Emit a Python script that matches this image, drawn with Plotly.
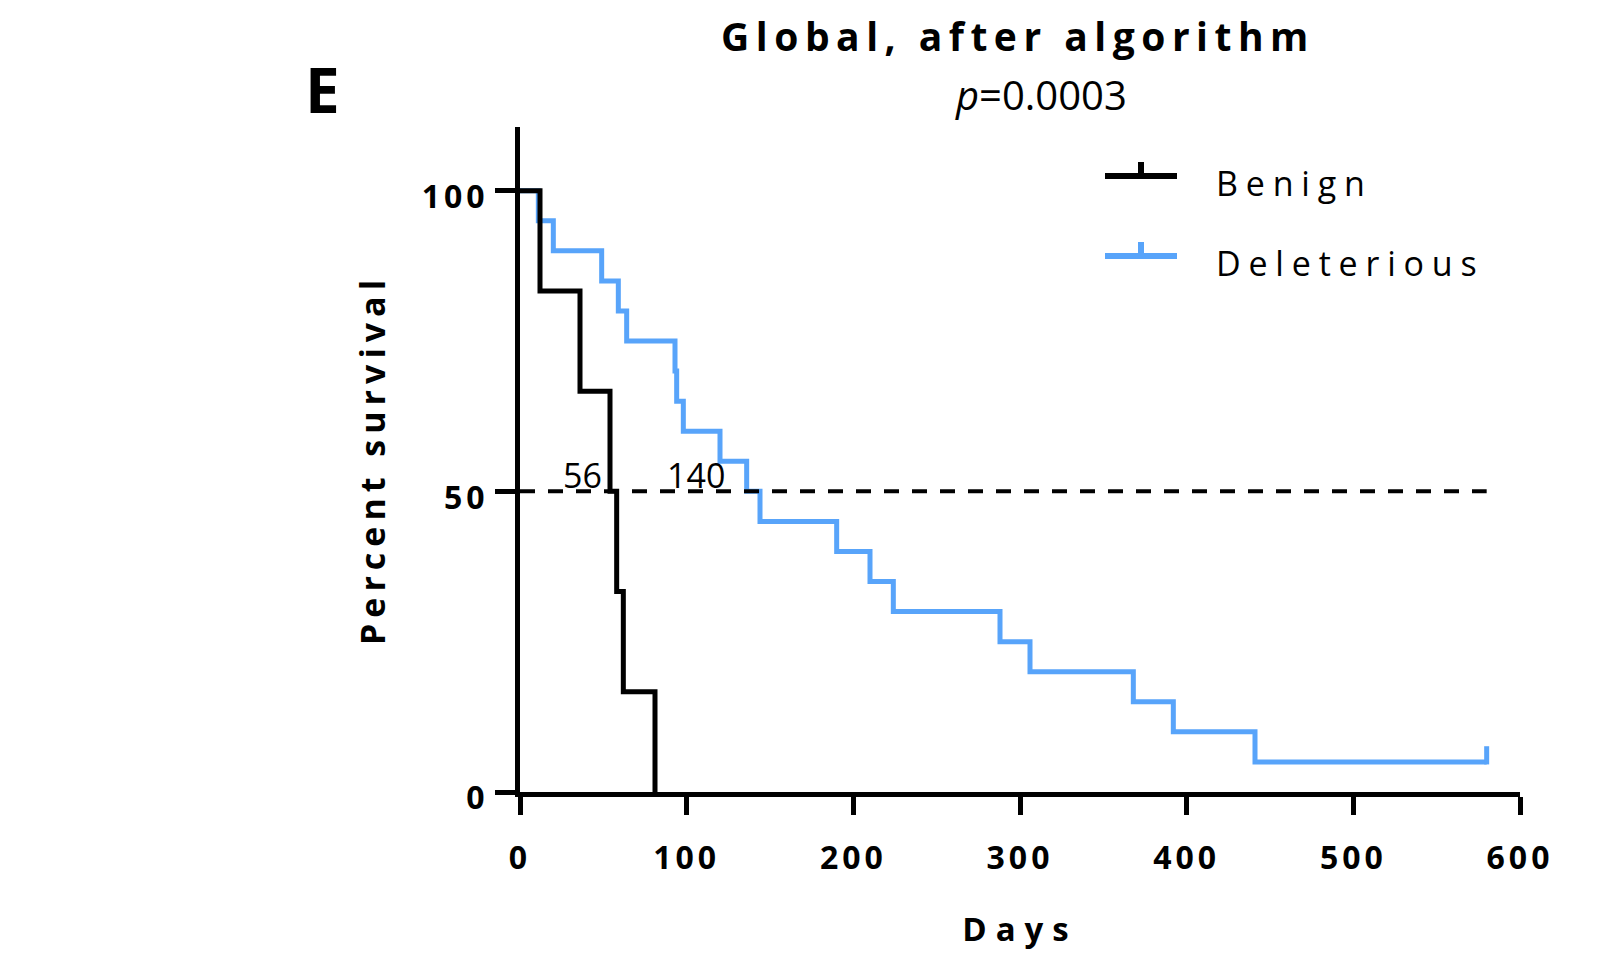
import plotly.graph_objects as go

# ---- data ----
benign_days = [0, 12, 36, 54, 58, 62, 81]
benign_surv = [100, 83.33, 66.67, 50, 33.33, 16.67, 0]

del_days = [0, 11, 20, 49, 59, 64, 93, 94, 98, 120, 136, 144, 190, 210, 224,
            288, 306, 368, 392, 441, 580]
del_surv = [100, 95, 90, 85, 80, 75, 70, 65, 60, 55, 50, 45, 40, 35, 30,
            25, 20, 15, 10, 5, 5]

del_censor_days = [580]
del_censor_surv = [5]

medians = [56, 140]
median_labels = ["56", "140"]

series_names = ["Benign", "Deleterious"]
series_colors = ["#000000", "#58A4FA"]

x_ticks = [0, 100, 200, 300, 400, 500, 600]
y_ticks = [0, 50, 100]

title_text = "Global, after algorithm"
p_text = "<i>p</i>=0.0003"
panel_letter = "E"

FONT = "Open Sans"
W, H = 1623, 958
OFF = 8  # page body margin
# plot area in screen pixels: x 520..1520, y 127..792
L = 520 - OFF
T = 127 - OFF
R = W - (1520 - OFF)
B = H - (792 - OFF)
plot_w = W - L - R
plot_h = H - T - B


def px(xs):
    return (xs - OFF - L) / plot_w


def py(ys):
    return (H - B - (ys - OFF)) / plot_h


LEG_SP = 7.8

fig = go.Figure()

# Deleterious (drawn first, below benign)
fig.add_trace(go.Scatter(x=del_days, y=del_surv, mode="lines",
                         line=dict(color=series_colors[1], width=5, shape="hv"),
                         showlegend=False, hoverinfo="skip"))
# censor tick (upward)
fig.add_trace(go.Scatter(x=del_censor_days, y=[v + 1.1 for v in del_censor_surv],
                         mode="markers",
                         marker=dict(symbol="line-ns", size=13,
                                     line=dict(color=series_colors[1], width=5)),
                         showlegend=False, hoverinfo="skip"))
# Benign
fig.add_trace(go.Scatter(x=benign_days, y=benign_surv, mode="lines",
                         line=dict(color=series_colors[0], width=5, shape="hv"),
                         showlegend=False, hoverinfo="skip"))
# median (50%) dashed line
fig.add_trace(go.Scatter(x=[0, max(del_days)], y=[50, 50], mode="lines",
                         line=dict(color="black", width=4, dash="15px,13px"),
                         showlegend=False, hoverinfo="skip"))

# median labels
for m, lab, sh in zip(medians, median_labels, [-9, -26]):
    fig.add_annotation(x=m, y=50, text=lab, showarrow=False, xanchor="right",
                       yanchor="bottom", xshift=sh, yshift=-9,
                       font=dict(family=FONT, size=34, color="black"))

# custom legend
leg_y_px = [176, 256]
leg_box_w = [190, 310]
for name, col, ypx, bw in zip(series_names, series_colors, leg_y_px, leg_box_w):
    yp = py(ypx)
    x0 = px(1105)
    x1 = px(1177)
    xm = (x0 + x1) / 2
    fig.add_shape(type="line", xref="paper", yref="paper", x0=x0, x1=x1, y0=yp, y1=yp,
                  line=dict(color=col, width=6))
    fig.add_shape(type="line", xref="paper", yref="paper", x0=xm, x1=xm, y0=yp,
                  y1=yp + 14 / plot_h, line=dict(color=col, width=6))
    fig.add_annotation(xref="paper", yref="paper", x=px(1214), y=py(ypx + 7),
                       text=name, showarrow=False, xanchor="left", yanchor="middle",
                       align="left", width=bw,
                       font=dict(family=FONT, size=34, color="black"))

# title, p-value, panel letter
fig.add_annotation(xref="paper", yref="paper", x=px(1018), y=py(OFF),
                   text="<b>" + title_text + "</b>", showarrow=False,
                   xanchor="center", yanchor="top", align="center", width=640,
                   borderpad=0,
                   font=dict(family=FONT, size=39, color="black"))
fig.add_annotation(xref="paper", yref="paper", x=px(1041), y=py(95),
                   text=p_text, showarrow=False, xanchor="center", yanchor="middle",
                   font=dict(family=FONT, size=40, color="black"))
fig.add_annotation(xref="paper", yref="paper", x=px(322), y=py(89),
                   text="<b>" + panel_letter + "</b>", showarrow=False,
                   xanchor="center", yanchor="middle",
                   font=dict(family=FONT, size=62, color="black"))

fig.update_layout(
    width=W, height=H,
    margin=dict(l=L, r=R, t=T, b=B, pad=0),
    paper_bgcolor="white", plot_bgcolor="white",
    showlegend=False,
    xaxis=dict(range=[0, 600], tickvals=x_ticks, ticktext=[str(v) for v in x_ticks],
               showline=True, linecolor="black", linewidth=5,
               ticks="outside", ticklen=18, tickwidth=5, tickcolor="black",
               showgrid=False, zeroline=False,
               tickfont=dict(family=FONT, size=32, color="black", weight="bold"),
               ticklabelstandoff=16,
               title=dict(text="Days", standoff=42,
                          font=dict(family=FONT, size=33, color="black", weight="bold"))),
    yaxis=dict(range=[0, 110.6], tickvals=y_ticks, ticktext=[str(v) for v in y_ticks],
               showline=True, linecolor="black", linewidth=5,
               ticks="outside", ticklen=20, tickwidth=5, tickcolor="black",
               showgrid=False, zeroline=False,
               tickfont=dict(family=FONT, size=32, color="black", weight="bold"),
               ticklabelstandoff=0, ticklabelshift=6,
               title=dict(text="Percent survival", standoff=39,
                          font=dict(family=FONT, size=34, color="black", weight="bold"))),
)

post_js = """
var gd = document.getElementById('{plot_id}');
function setSp(q, v) {
  gd.querySelectorAll(q).forEach(function (t) { t.style.letterSpacing = v; });
}
setSp('.xtick text', '4px');
setSp('.ytick text', '4px');
setSp('.g-xtitle text', '9px');
setSp('.g-ytitle text', '6px');
gd.querySelectorAll('.annotation-text').forEach(function (t) {
  var s = t.textContent;
  if (s === 'Global, after algorithm') { t.style.letterSpacing = '6.5px'; }
  if (s === 'Benign' || s === 'Deleterious') { t.style.letterSpacing = '%.1fpx'; }
});
""" % LEG_SP

fig.write_html("out.html", post_script=post_js)
